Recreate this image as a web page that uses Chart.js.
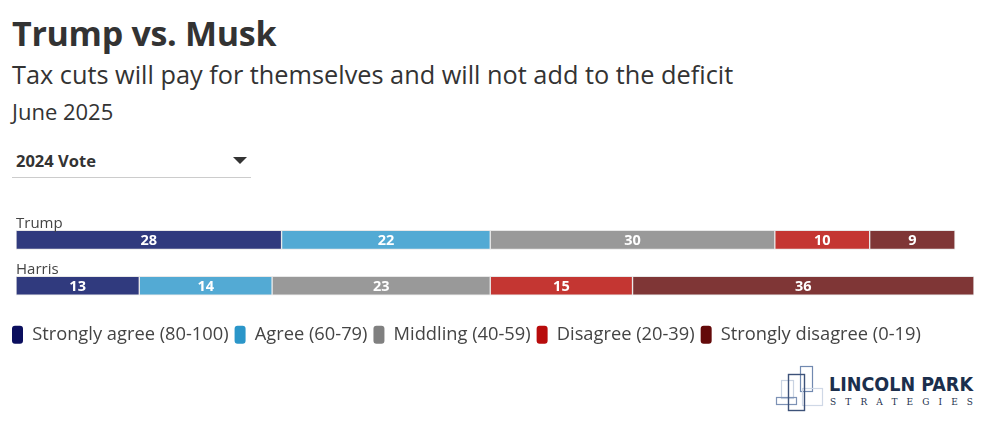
<!DOCTYPE html>
<html>
<head>
<meta charset="utf-8">
<script src="https://cdn.jsdelivr.net/npm/chart.js@4.4.1/dist/chart.umd.min.js"></script>
<style>
  html, body { margin: 0; padding: 0; background: #fff; }
  body { width: 986px; height: 428px; position: relative; overflow: hidden; font-family: 'Open Sans', sans-serif; color: #333; }
  .title { position: absolute; left: 12px; top: 10px; font-size: 34px; font-weight: 700; letter-spacing: -0.3px; }
  .sub { position: absolute; left: 12px; top: 57px; font-size: 25.3px; color: #333; }
  .date { position: absolute; left: 12px; top: 96px; font-size: 22px; color: #333; }
  .dd { position: absolute; left: 12px; top: 147px; width: 239px; height: 30px; border-bottom: 1px solid #ccc; }
  .dd span { position: absolute; left: 4px; top: 2px; font-size: 16.5px; font-weight: 700; color: #333; }
  .dd i { position: absolute; left: 221px; top: 10px; width: 0; height: 0; border-left: 7px solid transparent; border-right: 7px solid transparent; border-top: 7px solid #333; }
  #wrap { position: absolute; left: 0; top: 200px; width: 986px; height: 154px; }
  #logo { position: absolute; left: 770px; top: 360px; }
</style>
</head>
<body>
<div class="title">Trump vs. Musk</div>
<div class="sub">Tax cuts will pay for themselves and will not add to the deficit</div>
<div class="date">June 2025</div>
<div class="dd"><span>2024 Vote</span><i></i></div>
<div id="wrap"><canvas id="c"></canvas></div>
<svg id="logo" width="210" height="55" viewBox="770 360 210 55">
  <rect x="800.5" y="366.5" width="12" height="25" fill="none" stroke="#7189b0" stroke-width="1.2"/>
  <rect x="781.5" y="380.5" width="12" height="18" fill="none" stroke="#c9d3e2" stroke-width="1.2"/>
  <rect x="802.5" y="388.5" width="20" height="17" fill="none" stroke="#cfd8e6" stroke-width="1.2"/>
  <rect x="776.5" y="397.5" width="20" height="7" fill="none" stroke="#7d92b5" stroke-width="1.2"/>
  <rect x="788.5" y="374.5" width="16" height="36" fill="none" stroke="#3d5279" stroke-width="1.4"/>
  <text x="829" y="390.5" font-family="DejaVu Sans Condensed, DejaVu Sans" font-weight="700" font-size="20" fill="#1b2f4d" textLength="144" lengthAdjust="spacingAndGlyphs">LINCOLN PARK</text>
  <text x="830" y="404.5" font-family="DejaVu Serif, Liberation Serif" font-size="9" fill="#1b2f4d" textLength="143" lengthAdjust="spacing">STRATEGIES</text>
</svg>
<script>
const categories = ['Trump', 'Harris'];
const seriesNames = ['Strongly agree (80-100)', 'Agree (60-79)', 'Middling (40-59)', 'Disagree (20-39)', 'Strongly disagree (0-19)'];
const stronglyAgree = [28, 13];
const agree = [22, 14];
const middling = [30, 23];
const disagree = [10, 15];
const stronglyDisagree = [9, 36];
const barColors = ['#303a7e', '#53aad4', '#999999', '#c43632', '#7f3636'];
const legendColors = ['#0b0f5e', '#2b96c9', '#808080', '#b80c0c', '#640a0a'];

const seriesValues = [stronglyAgree, agree, middling, disagree, stronglyDisagree];

const barLabels = {
  id: 'barLabels',
  afterDatasetsDraw(chart) {
    const ctx = chart.ctx;
    ctx.save();
    ctx.font = '700 14.5px "Open Sans", sans-serif';
    ctx.fillStyle = '#fff';
    ctx.textAlign = 'center';
    ctx.textBaseline = 'middle';
    chart.data.datasets.forEach((ds, i) => {
      chart.getDatasetMeta(i).data.forEach((bar, j) => {
        const x = (bar.base + bar.x) / 2;
        ctx.fillText(String(ds.data[j]), x, bar.y + 1);
      });
    });
    // category names above each bar
    const y = chart.scales.y;
    ctx.font = '15px "Open Sans", sans-serif';
    ctx.fillStyle = '#444';
    ctx.textAlign = 'left';
    ctx.textBaseline = 'alphabetic';
    categories.forEach((c, j) => {
      ctx.fillText(c, chart.chartArea.left, y.getPixelForValue(j) - 12);
    });
    ctx.restore();
  }
};

new Chart(document.getElementById('c'), {
  type: 'bar',
  data: {
    labels: categories,
    datasets: seriesValues.map((vals, i) => ({
      label: seriesNames[i],
      data: vals,
      backgroundColor: barColors[i],
      borderColor: '#e8e8e8',
      borderWidth: 1,
      borderSkipped: false,
      barThickness: 19
    }))
  },
  options: {
    indexAxis: 'y',
    responsive: true,
    maintainAspectRatio: false,
    animation: false,
    layout: { padding: { left: 6, right: 12, top: 17, bottom: 0 } },
    scales: {
      x: {
        stacked: true, min: 0, max: 101,
        ticks: { display: false }, grid: { display: false }, border: { display: false },
        afterFit(s) { s.height = 11; }
      },
      y: {
        stacked: true,
        ticks: { display: false }, grid: { display: false }, border: { display: false },
        afterFit(s) { s.width = 10; }
      }
    },
    plugins: {
      tooltip: { enabled: false },
      legend: {
        position: 'bottom',
        align: 'start',
        labels: {
          boxWidth: 11,
          boxHeight: 18,
          padding: 6,
          color: '#444',
          font: { family: 'Open Sans', size: 18.3 },
          useBorderRadius: true,
          borderRadius: 3,
          generateLabels(chart) {
            return chart.data.datasets.map((ds, i) => ({
              text: ds.label,
              fillStyle: legendColors[i],
              strokeStyle: legendColors[i],
              lineWidth: 0,
              fontColor: '#444',
              borderRadius: 3,
              datasetIndex: i
            }));
          }
        }
      }
    }
  },
  plugins: [barLabels]
});
</script>
</body>
</html>
